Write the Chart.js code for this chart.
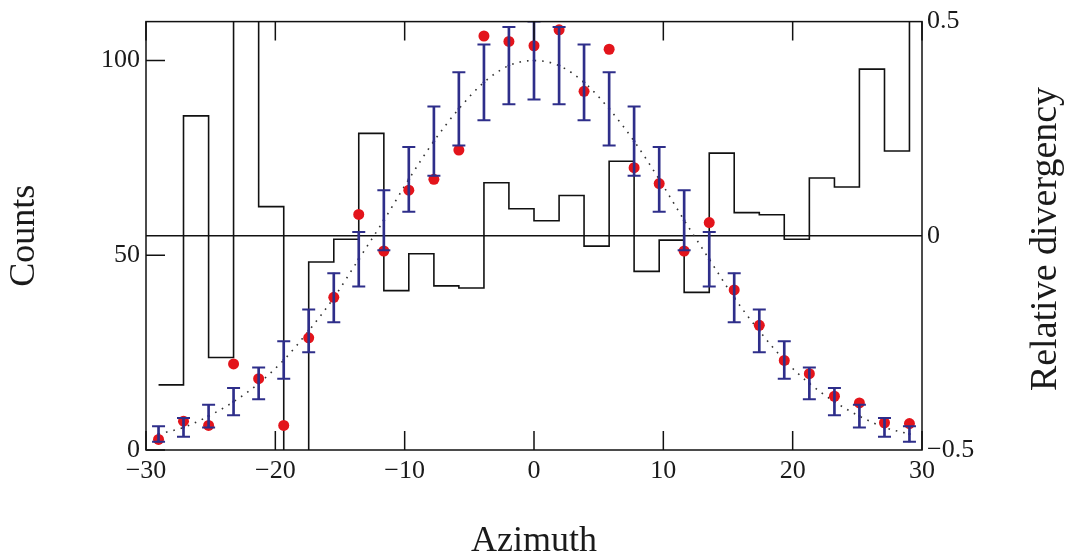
<!DOCTYPE html>
<html>
<head>
<meta charset="utf-8">
<script src="https://cdn.jsdelivr.net/npm/chart.js@4.4.1/dist/chart.umd.min.js"></script>
<style>
  html, body { margin: 0; padding: 0; background: #fff; }
  #wrap { width: 1068px; height: 555px; }
</style>
</head>
<body>
<div id="wrap"><canvas id="chart" width="1068" height="555"></canvas></div>
<script>

// bin centres (31 bins over -30..30)
var azimuth = [-29.03, -27.10, -25.16, -23.23, -21.29, -19.35, -17.42, -15.48, -13.55, -11.61,
  -9.68, -7.74, -5.81, -3.87, -1.94, 0, 1.94, 3.87, 5.81, 7.74,
  9.68, 11.61, 13.55, 15.48, 17.42, 19.35, 21.29, 23.23, 25.16, 27.10, 29.03];

// measured counts (red dots)
var counts = [2.7, 7.4, 6.3, 22.1, 18.3, 6.3, 28.8, 39.2, 60.5, 51.1,
  66.7, 69.5, 77.0, 106.3, 104.9, 103.8, 107.9, 92.1, 102.9, 72.5,
  68.4, 51.1, 58.4, 41.1, 32.0, 23.0, 19.6, 13.8, 12.1, 7.0, 6.8];

// expected counts (dotted curve, centre of error bars)
var expected = [4.1, 5.8, 8.7, 12.4, 17.1, 23.1, 30.6, 39.1, 49.0, 59.0,
  69.5, 79.3, 87.6, 94.4, 98.7, 100, 98.7, 94.4, 87.6, 79.3,
  69.5, 59.0, 49.0, 39.1, 30.6, 23.1, 17.1, 12.4, 8.7, 5.8, 4.1];

// error bar half heights
var sigma = [2.0, 2.4, 2.9, 3.5, 4.1, 4.8, 5.5, 6.3, 7.0, 7.7,
  8.3, 8.9, 9.4, 9.7, 9.9, 10.0, 9.9, 9.7, 9.4, 8.9,
  8.3, 7.7, 7.0, 6.3, 5.5, 4.8, 4.1, 3.5, 2.9, 2.4, 2.0];

// relative divergency (step line, right axis)
var divergency = [-0.348, 0.28, -0.284, 0.78, 0.068, -0.73, -0.061, -0.008, 0.239, -0.128,
  -0.042, -0.117, -0.122, 0.124, 0.063, 0.035, 0.094, -0.024, 0.174, -0.083,
  -0.010, -0.132, 0.193, 0.054, 0.049, -0.008, 0.135, 0.114, 0.389, 0.198, 0.66];

var azimuthTicks = [-30, -20, -10, 0, 10, 20, 30];
var countTicks = [0, 50, 100];
var divergencyTicks = [-0.5, 0, 0.5];

var serif = '"Liberation Serif", "Times New Roman", serif';
var textColor = '#1a1a1a';
var barColor = '#2e2e8a';   // error bars (navy)
var dotColor = '#e3141b';   // measured points

function pts(ys) {
  return azimuth.map(function (x, i) { return { x: x, y: ys[i] }; });
}

// proper minus sign like the original
function fmt(v) {
  var s = String(Math.abs(v));
  return v < 0 ? '\u2212' + s : s;
}

function setTicks(list) {
  return function (scale) {
    scale.ticks = list.map(function (v) { return { value: v }; });
  };
}

//
// Frame, inward tick marks and the right-hand title
//
var frameAndTicks = {
  id: 'frameAndTicks',
  afterDatasetsDraw: function (chart) {
    var ctx = chart.ctx, a = chart.chartArea;
    var xs = chart.scales.x, ys = chart.scales.y;
    var len = 19;

    ctx.save();
    ctx.strokeStyle = '#111';
    ctx.lineWidth = 1.5;
    ctx.beginPath();
    xs.ticks.forEach(function (t) {
      var px = xs.getPixelForValue(t.value);
      ctx.moveTo(px, a.bottom); ctx.lineTo(px, a.bottom - len);
      ctx.moveTo(px, a.top); ctx.lineTo(px, a.top + len);
    });
    ys.ticks.forEach(function (t) {
      var py = ys.getPixelForValue(t.value);
      ctx.moveTo(a.left, py); ctx.lineTo(a.left + len, py);
    });
    ctx.stroke();
    ctx.strokeRect(a.left, a.top, a.right - a.left, a.bottom - a.top);

    // right title reads bottom to top, chart.js would turn it the other way
    ctx.fillStyle = textColor;
    ctx.font = '38px ' + serif;
    ctx.textAlign = 'center';
    ctx.textBaseline = 'alphabetic';
    ctx.translate(chart.width - 12, 239);
    ctx.rotate(-Math.PI / 2);
    ctx.fillText('Relative divergency', 0, 0);
    ctx.restore();
  }
};

var stems = azimuth.map(function (x, i) {
  return { x: x, y: [expected[i] - sigma[i], expected[i] + sigma[i]] };
});

var chart = new Chart(document.getElementById('chart'), {
  type: 'line',
  data: {
    datasets: [
      {
        // error bar stems
        type: 'bar',
        data: stems,
        yAxisID: 'y',
        backgroundColor: barColor,
        barThickness: 2
      },
      {
        data: pts(expected.map(function (v, i) { return v - sigma[i]; })),
        yAxisID: 'y',
        showLine: false,
        pointStyle: 'line',
        pointRadius: 6.5,
        pointBorderWidth: 2,
        pointBorderColor: barColor
      },
      {
        data: pts(expected.map(function (v, i) { return v + sigma[i]; })),
        yAxisID: 'y',
        showLine: false,
        pointStyle: 'line',
        pointRadius: 6.5,
        pointBorderWidth: 2,
        pointBorderColor: barColor
      },
      {
        // measured counts
        data: pts(counts),
        yAxisID: 'y',
        showLine: false,
        pointRadius: 5.5,
        pointBorderWidth: 0,
        pointBackgroundColor: dotColor
      },
      {
        // expected distribution, dotted
        data: pts(expected),
        yAxisID: 'y',
        borderColor: '#333',
        borderWidth: 1.6,
        borderDash: [1.6, 6],
        cubicInterpolationMode: 'monotone',
        pointRadius: 1.3,
        pointBorderWidth: 0,
        pointBackgroundColor: barColor
      },
      {
        // relative divergency histogram
        data: pts(divergency),
        yAxisID: 'y2',
        stepped: 'before',
        borderColor: '#111',
        borderWidth: 1.6,
        pointRadius: 0
      }
    ]
  },
  options: {
    responsive: false,
    animation: false,
    devicePixelRatio: 1,
    layout: { padding: { top: 20, left: 0, right: 0, bottom: 0 } },
    plugins: {
      legend: { display: false },
      tooltip: { enabled: false }
    },
    scales: {
      x: {
        type: 'linear',
        position: 'bottom',
        min: -30,
        max: 30,
        offset: false,
        afterBuildTicks: setTicks(azimuthTicks),
        afterFit: function (s) { s.height = 105; },
        grid: { drawOnChartArea: false, drawTicks: false },
        border: { display: false },
        ticks: {
          padding: 6,
          color: textColor,
          font: { family: serif, size: 26 },
          maxRotation: 0,
          callback: function (v) { return fmt(v); }
        },
        title: {
          display: true,
          text: 'Azimuth',
          color: textColor,
          font: { family: serif, size: 36, lineHeight: 0.6 },
          padding: { top: 0, bottom: 3 }
        }
      },
      y: {
        position: 'left',
        min: 0,
        max: 110,
        afterBuildTicks: setTicks(countTicks),
        afterFit: function (s) { s.width = 146; },
        grid: { drawOnChartArea: false, drawTicks: false },
        border: { display: false },
        ticks: {
          padding: 6,
          color: textColor,
          font: { family: serif, size: 26 },
          callback: function (v) { return fmt(v); }
        },
        title: {
          display: true,
          text: 'Counts',
          color: textColor,
          font: { family: serif, size: 36, lineHeight: 1.2 },
          padding: { top: 3, bottom: 0 }
        }
      },
      y2: {
        position: 'right',
        min: -0.5,
        max: 0.5,
        afterBuildTicks: setTicks(divergencyTicks),
        afterFit: function (s) { s.width = 146; },
        grid: {
          drawOnChartArea: true,
          drawTicks: false,
          lineWidth: 1.5,
          color: function (c) { return c.tick && c.tick.value === 0 ? '#111' : 'rgba(0,0,0,0)'; }
        },
        border: { display: false },
        ticks: {
          padding: 5,
          color: textColor,
          font: { family: serif, size: 26 },
          callback: function (v) { return fmt(v); }
        }
      }
    }
  },
  plugins: [frameAndTicks]
});
</script>
</body>
</html>
